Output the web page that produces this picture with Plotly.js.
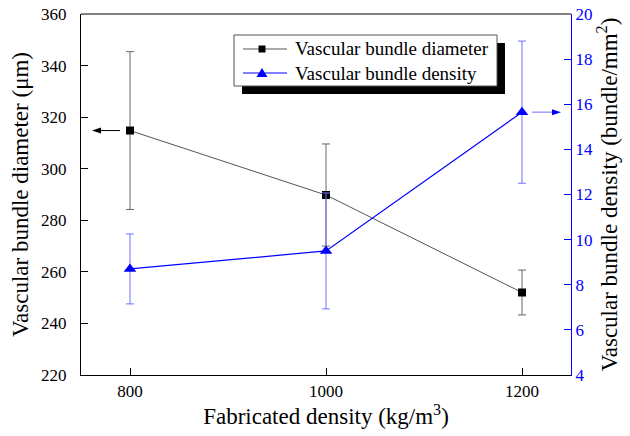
<!DOCTYPE html>
<html>
<head>
<meta charset="utf-8">
<script src="https://cdn.plot.ly/plotly-3.0.1.min.js"></script>
<style>html,body{margin:0;padding:0;background:#fff;}#chart{width:630px;height:436px;}</style>
</head>
<body>
<div id="chart"></div>
<script>
// ---- data ----
var fabricatedDensity = [800, 1000, 1200];
var bundleDiameter = [314.8, 289.8, 252.0];
var bundleDiameterErr = [30.6, 19.8, 8.7];
var bundleDensity = [8.7, 9.5, 15.65];
var bundleDensityErr = [1.55, 2.57, 3.15];
var xTickVals = [800, 1000, 1200];
var leftTickVals = [220, 240, 260, 280, 300, 320, 340, 360];
var rightTickVals = [4, 6, 8, 10, 12, 14, 16, 18, 20];
var seriesNames = ['Vascular bundle diameter', 'Vascular bundle density'];

var FONT = 'Times New Roman, Liberation Serif, serif';
var BLUE = '#0000ff';
var GRAY = '#555555';

// plot-area geometry (pixels) used for decoration placement
var M = {l: 81, r: 59, t: 14, b: 61}, W = 630, H = 436;
var PW = W - M.l - M.r, PH = H - M.t - M.b;
function px(x) { return (x - M.l) / PW; }
function py(y) { return (H - M.b - y) / PH; }

var traces = [
  {
    x: fabricatedDensity, y: bundleDiameter, name: seriesNames[0],
    type: 'scatter', mode: 'lines+markers', yaxis: 'y',
    line: {color: GRAY, width: 1},
    marker: {symbol: 'square', size: 8, color: '#000000'},
    error_y: {type: 'data', array: bundleDiameterErr, visible: true, color: '#666666', thickness: 1, width: 4}
  },
  {
    x: fabricatedDensity, y: bundleDensity, name: seriesNames[1],
    type: 'scatter', mode: 'lines+markers', yaxis: 'y2',
    line: {color: BLUE, width: 1.2},
    marker: {symbol: 'triangle-up', size: 11, color: BLUE},
    error_y: {type: 'data', array: bundleDensityErr, visible: true, color: '#7070ff', thickness: 1, width: 4}
  }
];

// legend drawn by hand (box with drop shadow)
var LB = {x0: 234, x1: 497, y0: 35, y1: 86, off: 8};
var rowY = [49, 73];
var sampleX = [243, 287], markX = 262, textX = 293;
var shapes = [
  {type: 'line', xref: 'paper', yref: 'paper', x0: 0, x1: 1, y0: 1, y1: 1, line: {color: '#000', width: 1.2}},
  {type: 'rect', xref: 'paper', yref: 'paper', layer: 'above',
   x0: px(LB.x0 + LB.off), x1: px(LB.x1 + LB.off), y0: py(LB.y0 + LB.off), y1: py(LB.y1 + LB.off),
   fillcolor: '#000', line: {width: 0}},
  {type: 'rect', xref: 'paper', yref: 'paper', layer: 'above',
   x0: px(LB.x0), x1: px(LB.x1), y0: py(LB.y0), y1: py(LB.y1),
   fillcolor: '#fff', line: {color: GRAY, width: 1}},
  {type: 'line', xref: 'paper', yref: 'paper', layer: 'above',
   x0: px(sampleX[0]), x1: px(sampleX[1]), y0: py(rowY[0]), y1: py(rowY[0]), line: {color: GRAY, width: 1}},
  {type: 'rect', xref: 'paper', yref: 'paper', layer: 'above',
   x0: px(markX - 3.5), x1: px(markX + 3.5), y0: py(rowY[0] - 3.5), y1: py(rowY[0] + 3.5),
   fillcolor: '#000', line: {width: 0}},
  {type: 'line', xref: 'paper', yref: 'paper', layer: 'above',
   x0: px(sampleX[0]), x1: px(sampleX[1]), y0: py(rowY[1]), y1: py(rowY[1]), line: {color: BLUE, width: 1.2}},
  {type: 'path', xref: 'paper', yref: 'paper', layer: 'above',
   path: 'M' + px(markX) + ',' + py(rowY[1] - 5) + ' L' + px(markX + 5.5) + ',' + py(rowY[1] + 4) +
         ' L' + px(markX - 5.5) + ',' + py(rowY[1] + 4) + ' Z',
   fillcolor: BLUE, line: {width: 0}}
];

// axis-pointing arrows, placed from the data values
var xPerPx = 500 / PW, y1PerPx = 140 / PH, y2PerPx = 16 / PH;
var aL = {tip: fabricatedDensity[0] - 38 * xPerPx, tail: fabricatedDensity[0] - 10 * xPerPx, y: bundleDiameter[0]};
var aR = {tip: fabricatedDensity[2] + 39 * xPerPx, tail: fabricatedDensity[2] + 10 * xPerPx, y: bundleDensity[2]};
shapes.push(
  {type: 'line', xref: 'x', yref: 'y', x0: aL.tail, x1: aL.tip + 6 * xPerPx, y0: aL.y, y1: aL.y, line: {color: '#000', width: 1}},
  {type: 'path', xref: 'x', yref: 'y', fillcolor: '#000', line: {width: 0},
   path: 'M' + aL.tip + ',' + aL.y + ' L' + (aL.tip + 9 * xPerPx) + ',' + (aL.y + 3 * y1PerPx) +
         ' L' + (aL.tip + 9 * xPerPx) + ',' + (aL.y - 3 * y1PerPx) + ' Z'},
  {type: 'line', xref: 'x', yref: 'y2', x0: aR.tail, x1: aR.tip - 6 * xPerPx, y0: aR.y, y1: aR.y, line: {color: '#7070ff', width: 1}},
  {type: 'path', xref: 'x', yref: 'y2', fillcolor: BLUE, line: {width: 0},
   path: 'M' + aR.tip + ',' + aR.y + ' L' + (aR.tip - 9 * xPerPx) + ',' + (aR.y + 3 * y2PerPx) +
         ' L' + (aR.tip - 9 * xPerPx) + ',' + (aR.y - 3 * y2PerPx) + ' Z'}
);

var annotations = seriesNames.map(function (name, i) {
  return {xref: 'paper', yref: 'paper', x: px(textX), y: py(rowY[i]), xanchor: 'left', yanchor: 'middle',
          text: name, showarrow: false, font: {family: FONT, size: 19, color: '#000'}};
});

var layout = {
  width: W, height: H,
  margin: M,
  paper_bgcolor: '#ffffff', plot_bgcolor: '#ffffff',
  font: {family: FONT, size: 17, color: '#000'},
  showlegend: false,
  xaxis: {
    range: [750, 1250], tickvals: xTickVals, ticks: 'inside', ticklen: 7, tickcolor: '#000',
    showline: true, linecolor: '#000', linewidth: 1.2, showgrid: false, zeroline: false,
    tickfont: {family: FONT, size: 17, color: '#000'},
    title: {text: 'Fabricated density (kg/m<sup>3</sup>)', font: {family: FONT, size: 23, color: '#000'}, standoff: 6}
  },
  yaxis: {
    range: [220, 360], tickvals: leftTickVals, ticks: 'inside', ticklen: 7, tickcolor: '#000',
    showline: true, linecolor: '#000', linewidth: 1.2, showgrid: false, zeroline: false,
    ticklabelstandoff: 10,
    tickfont: {family: FONT, size: 17, color: '#000'},
    title: {text: 'Vascular bundle diameter (\u03bcm)', font: {family: FONT, size: 23, color: '#000'}, standoff: 5}
  },
  yaxis2: {
    range: [4, 20], tickvals: rightTickVals, ticks: 'inside', ticklen: 7, tickcolor: BLUE,
    overlaying: 'y', side: 'right',
    showline: true, linecolor: BLUE, linewidth: 1.2, showgrid: false, zeroline: false,
    tickfont: {family: FONT, size: 17, color: BLUE},
    title: {text: 'Vascular bundle density (bundle/mm<sup>2</sup>)', font: {family: FONT, size: 23, color: '#000'}, standoff: 8}
  },
  shapes: shapes,
  annotations: annotations
};

Plotly.newPlot('chart', traces, layout, {staticPlot: true, displayModeBar: false});
</script>
</body>
</html>
